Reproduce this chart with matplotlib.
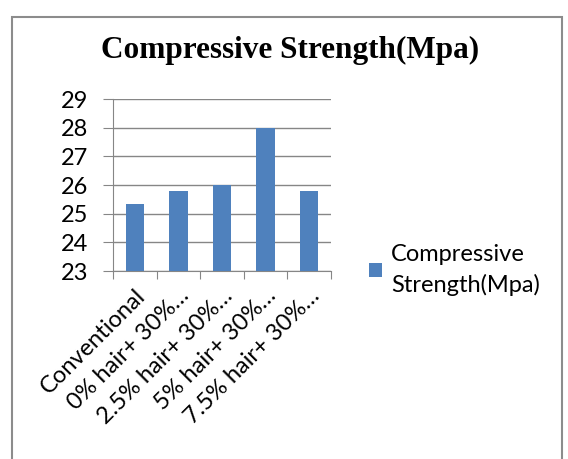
import matplotlib.pyplot as plt
from matplotlib.patches import Rectangle

categories = ["Conventional", "0% hair+ 30%\u2026", "2.5% hair+ 30%\u2026",
              "5% hair+ 30%\u2026", "7.5% hair+ 30%\u2026"]
strength = [25.35, 25.8, 26.0, 28.0, 25.8]
yticks = [23, 24, 25, 26, 27, 28, 29]

blue = "#4f81bd"
grid = "#868686"
sans = ["Lato", "DejaVu Sans"]

fig = plt.figure(figsize=(5.68, 4.59), dpi=100)
fig.patches.append(Rectangle((12 / 568, -0.1), 550 / 568, 1.1 - 17 / 459,
                             transform=fig.transFigure, fill=False,
                             edgecolor="#8c8c8c", lw=1.5))

ax = fig.add_axes([113 / 568, 1 - 271 / 459, 218 / 568, 172 / 459])
x = range(len(categories))
ax.bar(x, strength, width=0.42, color=blue, zorder=3, label="Compressive\nStrength(Mpa)")
ax.set_ylim(23, 29)
ax.set_xlim(-0.5, len(categories) - 0.5)
ax.set_yticks(yticks)
ax.set_yticklabels([str(t) for t in yticks], fontsize=17, family=sans)
ax.yaxis.grid(True, color=grid, lw=1, zorder=0)
ax.tick_params(axis="y", length=7, color=grid, pad=11)

ax.set_xticks([i - 0.5 for i in range(len(categories) + 1)])
ax.set_xticklabels([])
ax.tick_params(axis="x", length=6, color=grid)
ax.set_xticks(list(x), minor=True)
ax.set_xticklabels(categories, minor=True, rotation=45, ha="right",
                   rotation_mode="anchor", fontsize=17, family=sans)
ax.tick_params(axis="x", which="minor", length=0, pad=10)

for s in ["top", "right"]:
    ax.spines[s].set_visible(False)
for s in ["left", "bottom"]:
    ax.spines[s].set_color(grid)

fig.text(290 / 568, 1 - 50 / 459, "Compressive Strength(Mpa)", ha="center", va="center",
         fontsize=22.5, fontweight="bold", family="Liberation Serif")

leg = ax.legend(loc="center left", bbox_to_anchor=(357 / 568, 1 - 270 / 459),
                bbox_transform=fig.transFigure, frameon=False,
                prop={"family": sans, "size": 17}, handlelength=0.55, handleheight=0.55,
                handletextpad=0.4, borderpad=0)
leg.get_texts()[0].set_linespacing(1.45)

fig.savefig("out.png", dpi=100)
